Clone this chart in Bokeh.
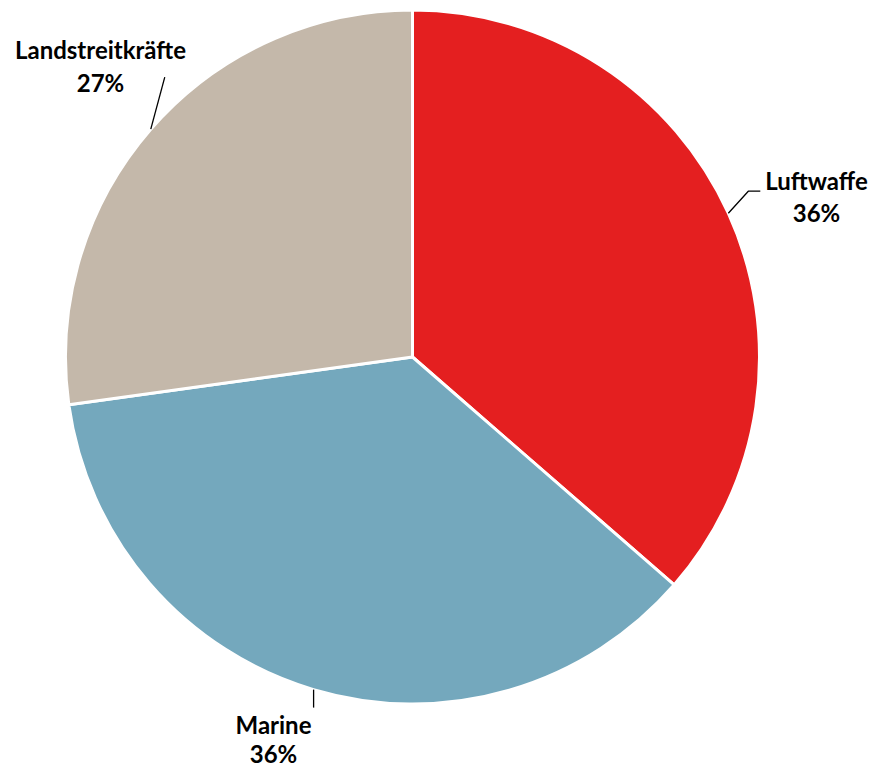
import math
from bokeh.plotting import figure
from bokeh.models import Range1d, ColumnDataSource
from bokeh.core.properties import value
from bokeh.embed import file_html
from bokeh.resources import INLINE

# ---- data ----
categories = ["Luftwaffe", "Marine", "Landstreitkräfte"]
shares = [36.4, 36.4, 27.2]
colors = ["#E41F20", "#74A8BD", "#C4B8AA"]

# ---- layout (page pixel coordinates; data y = -page y) ----
W, H = 872, 770
CX, CY, R = 412, 356.5, 347
# leader line offsets from the slice's mid-point on the rim (dx, dy) in page px
leader_pts = [[(20, -22), (32, -22)], [(0, 18)], [(14, -52)]]
# label anchor (center x, first-line anchor y) and line gap, in page px
label_pos = [(816, 180), (273, 724), (100, 49)]
line_gaps = [32, 29, 33]

p = figure(width=W, height=H, output_backend="svg", toolbar_location=None,
           x_range=Range1d(0, W), y_range=Range1d(-H, 0),
           min_border=0)
p.axis.visible = False
p.grid.visible = False
p.outline_line_color = None
p.background_fill_color = "white"
p.border_fill_color = "white"

total = sum(shares)
starts, ends, mids = [], [], []
cum = 0.0
for v in shares:
    a0 = math.pi / 2 - 2 * math.pi * cum / total
    cum += v
    a1 = math.pi / 2 - 2 * math.pi * cum / total
    starts.append(a0)
    ends.append(a1)
    mids.append((a0 + a1) / 2)

src = ColumnDataSource(dict(x=[CX] * len(shares), y=[-CY] * len(shares),
                            start=starts, end=ends, color=colors, cat=categories))
p.wedge(x="x", y="y", radius=R, start_angle="start", end_angle="end",
        direction="clock", fill_color="color", line_color="white",
        line_width=3, source=src)

# leader lines
for m, pts in zip(mids, leader_pts):
    rx = CX + R * math.cos(m)
    ry = CY - R * math.sin(m)
    xs = [rx] + [rx + dx for dx, dy in pts]
    ys = [-ry] + [-(ry + dy) for dx, dy in pts]
    p.line(xs, ys, line_color="#000000", line_width=1.3)

# labels
names_x, names_y, pct_x, pct_y, pct_txt = [], [], [], [], []
for (lx, ly), gap, v in zip(label_pos, line_gaps, shares):
    names_x.append(lx)
    names_y.append(-ly)
    pct_x.append(lx)
    pct_y.append(-(ly + gap))
    pct_txt.append(f"{round(v)}%")

for xs_, ys_, tx in ((names_x, names_y, categories), (pct_x, pct_y, pct_txt)):
    p.text(x=xs_, y=ys_, text=tx, text_align="center",
           text_baseline="alphabetic", text_font=value("Lato"),
           text_font_style="bold", text_font_size="24px", text_color="#000000")

open("out.html", "w").write(file_html(p, INLINE))
